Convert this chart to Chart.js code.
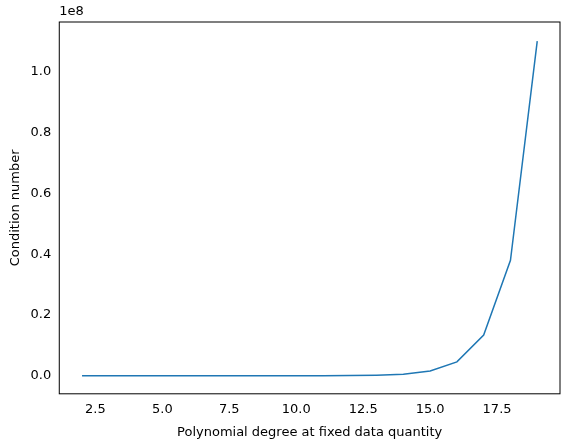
<!DOCTYPE html>
<html>
<head>
<script src="https://cdn.jsdelivr.net/npm/chart.js@4"></script>
<style>
body { margin: 0; background: #fff; }
#wrap { width: 567px; height: 448px; }
</style>
</head>
<body>
<div id="wrap"><canvas id="c" width="567" height="448"></canvas></div>
<script>
const degrees = [2, 3, 4, 5, 6, 7, 8, 9, 10, 11, 12, 13, 14, 15, 16, 17, 18, 19];
const conditionNumbers = [2e-1, 1e0, 5e0, 2e1, 8e1, 3e2, 1e3, 3e3, 1e4, 3e4, 8e4, 2e5, 5e5, 1.6e6, 4.6e6, 1.34e7, 3.8e7, 1.1e8];
const xTicks = [2.5, 5.0, 7.5, 10.0, 12.5, 15.0, 17.5];
const yTicks = [0, 0.2e8, 0.4e8, 0.6e8, 0.8e8, 1.0e8];

const font = { family: 'DejaVu Sans', size: 13 };

const offsetLabel = {
    id: 'offsetLabel',
    afterDraw(chart) {
        const { ctx, chartArea } = chart;
        ctx.save();
        ctx.font = '13px DejaVu Sans';
        ctx.fillStyle = '#000';
        ctx.textBaseline = 'bottom';
        ctx.fillText('1e8', chartArea.left, chartArea.top - 4);
        ctx.strokeStyle = '#000';
        ctx.lineWidth = 1;
        ctx.strokeRect(chartArea.left, chartArea.top, chartArea.right - chartArea.left, chartArea.bottom - chartArea.top);
        ctx.restore();
    }
};

const setTicks = (values) => (axis) => {
    axis.ticks = values.map(v => ({ value: v }));
};

new Chart(document.getElementById('c'), {
    type: 'scatter',
    data: {
        datasets: [{
            data: degrees.map((d, i) => ({ x: d, y: conditionNumbers[i] })),
            showLine: true,
            borderColor: '#1f77b4',
            borderWidth: 1.5,
            pointRadius: 0,
            tension: 0
        }]
    },
    options: {
        responsive: false,
        animation: false,
        layout: { padding: { top: 22, right: 7, left: 4, bottom: 4 } },
        plugins: { legend: { display: false }, tooltip: { enabled: false } },
        scales: {
            x: {
                type: 'linear',
                min: 1.15,
                max: 19.85,
                afterBuildTicks: setTicks(xTicks),
                ticks: { color: '#000', font, maxRotation: 0, autoSkip: false, callback: v => v.toFixed(1) },
                grid: { display: false, drawTicks: true, tickLength: 5, tickColor: '#000' },
                border: { display: false },
                title: { display: true, text: 'Polynomial degree at fixed data quantity', color: '#000', font }
            },
            y: {
                min: -0.059e8,
                max: 1.163e8,
                afterBuildTicks: setTicks(yTicks),
                ticks: { color: '#000', font, autoSkip: false, callback: v => (v / 1e8).toFixed(1) },
                grid: { display: false, drawTicks: true, tickLength: 5, tickColor: '#000' },
                border: { display: false },
                title: { display: true, text: 'Condition number', color: '#000', font }
            }
        }
    },
    plugins: [offsetLabel]
});
</script>
</body>
</html>
